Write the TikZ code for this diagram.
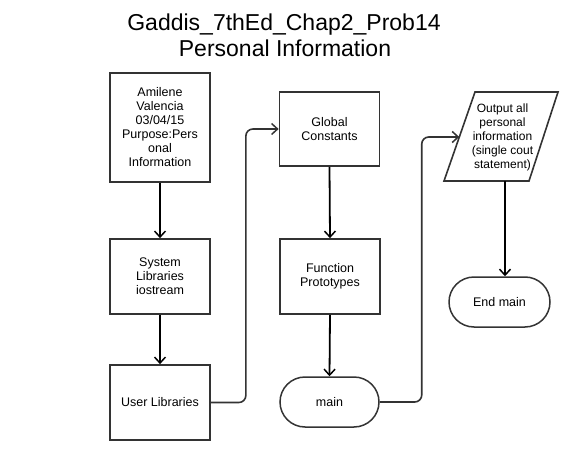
\documentclass[tikz,border=0pt]{standalone}
\usepackage{fontspec}
\setmainfont{Liberation Sans}
\usetikzlibrary{arrows.meta,calc}
\definecolor{edge}{HTML}{333333}
\begin{document}
\begin{tikzpicture}[x=1pt,y=-1pt,
  txt/.style={align=center,inner sep=0pt,font=\fontsize{12.5}{14}\selectfont},
  box/.style={txt,draw=edge,line width=1.7pt,minimum width=100pt},
  term/.style={txt,draw=edge,line width=1.5pt,rounded corners=25pt,minimum height=50pt},
  arr/.style={line width=1.8pt,-{Straight Barb[length=6pt,width=11pt,line width=1.5pt]}},
  conn/.style={draw=edge,line width=1.6pt,rounded corners=7pt,-{Straight Barb[length=6pt,width=11pt,line width=1.5pt]}},
  ttl/.style={anchor=base,inner sep=0pt,font=\fontsize{23}{26}\selectfont}
]
\useasboundingbox (0,0) rectangle (576,460);
\node[ttl] (t1) at (284,31) {Gaddis\_7thEd\_Chap2\_Prob14};
\node[ttl] (t2) at (285,57) {Personal Information};

\node[box,minimum height=109pt] (b1) at (160,127.5) {Amilene\\Valencia\\03/04/15\\Purpose:Pers\\onal\\Information};
\node[box,minimum height=75pt] (b2) at (160,276.5) {System\\Libraries\\iostream};
\node[box,minimum height=75pt] (b3) at (160,402.5) {User Libraries};
\node[box,minimum height=74pt] (b4) at (329.5,129) {Global\\Constants};
\node[box,minimum height=75pt] (b5) at (330,276.5) {Function\\Prototypes};
\node[term,minimum width=99pt] (mn) at (329.5,402) {main};

\coordinate (ptl) at (475,92);
\coordinate (ptr) at (558,92);
\coordinate (pbr) at (529,181);
\coordinate (pbl) at (444,181);
\draw[draw=edge,line width=1.6pt,line join=miter] (ptl) -- (ptr) -- (pbr) -- (pbl) -- cycle;
\node[txt,font=\fontsize{12}{14}\selectfont] (out) at (502.5,137) {Output all\\personal\\information\\(single cout\\statement)};
\coordinate (pin) at ($(pbl)!0.4944!(ptl)$);
\coordinate (pout) at (505,181);

\node[term,minimum width=101pt] (en) at (499.5,302) {End main};

\draw[arr] (b1.south) -- (b2.north);
\draw[arr] (b2.south) -- (b3.north);
\draw[arr] (b4.south) -- (b5.north);
\draw[arr] (b5.south) -- (mn.north);
\draw[arr] (pout) -- (pout |- en.north);
\draw[conn] (b3.east) -- ($(b3.east)+(35,0)$) |- (b4.west);
\draw[conn] (mn.east) -- ($(mn.east)+(42,0)$) |- (pin);
\end{tikzpicture}
\end{document}
